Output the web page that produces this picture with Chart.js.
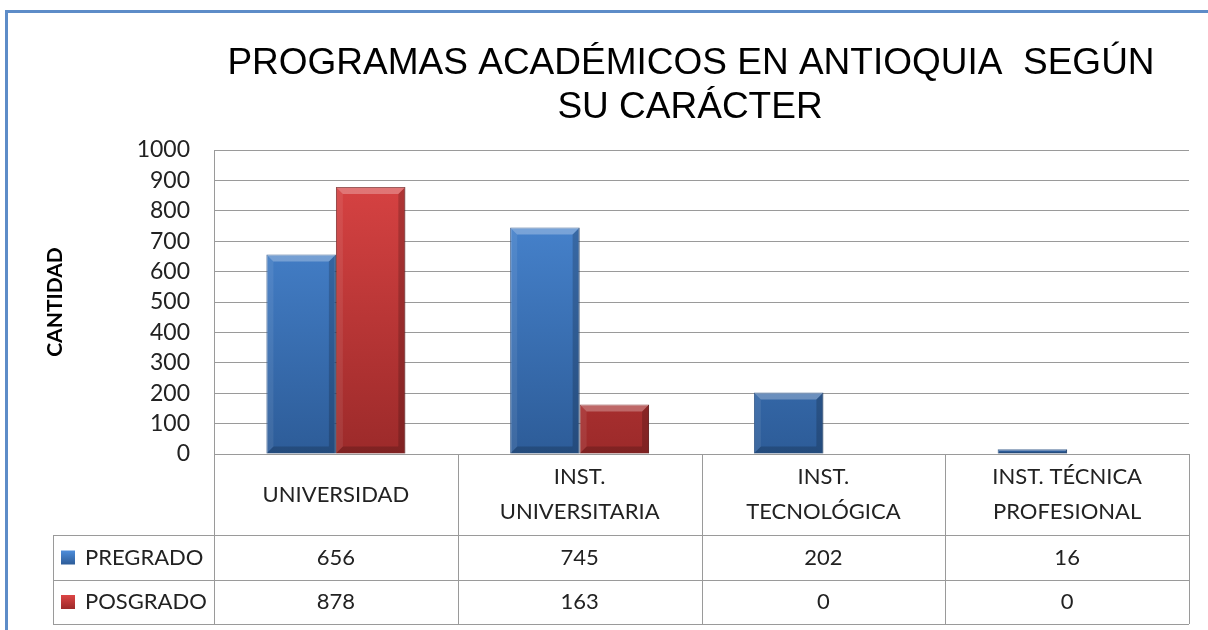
<!DOCTYPE html>
<html lang="es">
<head>
<meta charset="UTF-8">
<title>Programas académicos en Antioquia</title>
<script src="https://cdn.jsdelivr.net/npm/chart.js"></script>
<style>
  body { margin: 0; background: #fff; }
</style>
</head>
<body>
<canvas id="chart" width="1208" height="630"></canvas>

<script>
// datos
const categorias = [['UNIVERSIDAD'], ['INST.', 'UNIVERSITARIA'], ['INST.', 'TECNOLÓGICA'], ['INST. TÉCNICA', 'PROFESIONAL']];
const pregrado = [656, 745, 202, 16];
const posgrado = [878, 163, 0, 0];
const series = ['PREGRADO', 'POSGRADO'];
const titulo = ['PROGRAMAS ACADÉMICOS EN ANTIOQUIA  SEGÚN', 'SU CARÁCTER'];
const ejeY = 'CANTIDAD';

const colores = [
    { top: '#4d8ddb', bottom: '#2d5c98', edge: '#264e82' },
    { top: '#dd4545', bottom: '#9c2a2a', edge: '#781f1f' }
];
const linea = '#9a9a9a';

function degradado(ctx, c, y0, y1) {
    const g = ctx.createLinearGradient(0, y0, 0, y1);
    g.addColorStop(0, c.top);
    g.addColorStop(1, c.bottom);
    return g;
}

// marco azul del gráfico
const marco = {
    id: 'marco',
    beforeDraw(chart) {
        const ctx = chart.ctx;
        ctx.save();
        ctx.strokeStyle = '#5d8cc8';
        ctx.lineWidth = 3;
        ctx.beginPath();
        ctx.moveTo(6.5, chart.height);
        ctx.lineTo(6.5, 11.5);
        ctx.lineTo(chart.width, 11.5);
        ctx.stroke();
        ctx.restore();
    }
};

// título centrado sobre el área
const tituloPlugin = {
    id: 'tituloPlugin',
    afterDraw(chart) {
        const ctx = chart.ctx;
        ctx.save();
        ctx.fillStyle = '#000';
        ctx.font = '37px "Liberation Sans", Arial, sans-serif';
        ctx.textAlign = 'center';
        ctx.textBaseline = 'alphabetic';
        ctx.fillText(titulo[0], 691, 74);
        ctx.fillText(titulo[1], 690, 118);
        ctx.restore();
    }
};

// efecto biselado de las barras
const bisel = {
    id: 'bisel',
    afterDatasetsDraw(chart) {
        const ctx = chart.ctx;
        ctx.save();
        chart.data.datasets.forEach((ds, i) => {
            chart.getDatasetMeta(i).data.forEach(el => {
                const h = el.base - el.y;
                if (h < 1) return;
                const l = el.x - el.width / 2, r = el.x + el.width / 2, t = el.y, b = el.base;
                const s = Math.min(7, h / 3);
                ctx.fillStyle = 'rgba(255,255,255,0.28)';
                ctx.beginPath();
                ctx.moveTo(l, t); ctx.lineTo(r, t); ctx.lineTo(r - s, t + s); ctx.lineTo(l + s, t + s);
                ctx.closePath(); ctx.fill();
                ctx.fillStyle = 'rgba(0,0,0,0.18)';
                ctx.beginPath();
                ctx.moveTo(r, t); ctx.lineTo(r, b); ctx.lineTo(r - s, b - s); ctx.lineTo(r - s, t + s);
                ctx.closePath(); ctx.fill();
                ctx.beginPath();
                ctx.moveTo(l, b); ctx.lineTo(r, b); ctx.lineTo(r - s, b - s); ctx.lineTo(l + s, b - s);
                ctx.closePath(); ctx.fill();
                ctx.fillStyle = 'rgba(255,255,255,0.08)';
                ctx.beginPath();
                ctx.moveTo(l, t); ctx.lineTo(l + s, t + s); ctx.lineTo(l + s, b - s); ctx.lineTo(l, b);
                ctx.closePath(); ctx.fill();
            });
        });
        ctx.restore();
    }
};

// tabla de datos bajo el eje x
const tabla = {
    id: 'tabla',
    afterDraw(chart) {
        const { ctx, chartArea: a, scales: { x } } = chart;
        const n = categorias.length;
        const w = (a.right - a.left) / n;
        const y0 = a.bottom, y1 = y0 + 81, y2 = y1 + 45, y3 = y2 + 44;
        const xl = 53;
        const px = v => Math.round(v) + 0.5;

        ctx.save();
        ctx.strokeStyle = linea;
        ctx.lineWidth = 1;
        ctx.beginPath();
        ctx.moveTo(a.left, px(y0)); ctx.lineTo(a.right, px(y0));
        [y1, y2, y3].forEach(yy => { ctx.moveTo(xl, px(yy)); ctx.lineTo(a.right, px(yy)); });
        for (let i = 0; i <= n; i++) {
            const xx = px(a.left + i * w);
            ctx.moveTo(xx, y0); ctx.lineTo(xx, y3);
        }
        ctx.moveTo(px(xl), y1); ctx.lineTo(px(xl), y3);
        ctx.stroke();

        ctx.fillStyle = '#222';
        ctx.font = '22px Lato, sans-serif';
        ctx.textAlign = 'center';
        ctx.textBaseline = 'middle';
        const filas = [pregrado, posgrado];
        const centros = [(y1 + y2) / 2, (y2 + y3) / 2];
        categorias.forEach((lines, i) => {
            const cx = x.getPixelForValue(i);
            lines.forEach((t, k) => ctx.fillText(t, cx, (y0 + y1) / 2 + (k - (lines.length - 1) / 2) * 35));
            filas.forEach((f, j) => ctx.fillText(String(f[i]), cx, centros[j]));
        });

        ctx.textAlign = 'left';
        series.forEach((s, j) => {
            const cy = centros[j];
            ctx.fillStyle = degradado(ctx, colores[j], cy - 7, cy + 7);
            ctx.fillRect(61, cy - 7, 14, 14);
            ctx.fillStyle = '#222';
            ctx.fillText(s, 85, cy);
        });
        ctx.restore();
    }
};

const ctx = document.getElementById('chart').getContext('2d');
new Chart(ctx, {
    type: 'bar',
    data: {
        labels: categorias.map(c => c.join(' ')),
        datasets: [pregrado, posgrado].map((d, j) => ({
            label: series[j],
            data: d,
            backgroundColor: c => {
                const area = c.chart.chartArea;
                if (!area) return colores[j].top;
                return degradado(c.chart.ctx, colores[j], area.top, area.bottom);
            },
            borderColor: colores[j].edge,
            borderWidth: 1,
            barPercentage: 1,
            categoryPercentage: 0.57
        }))
    },
    options: {
        responsive: false,
        animation: false,
        layout: { padding: { left: 0, right: 19, top: 150, bottom: 176 } },
        plugins: {
            legend: { display: false },
            tooltip: { enabled: false },
            title: { display: false }
        },
        scales: {
            x: { display: false },
            y: {
                min: 0,
                max: 1000,
                ticks: {
                    stepSize: 100,
                    autoSkip: false,
                    padding: 24,
                    color: '#222',
                    font: { family: 'Lato', size: 23 },
                    callback: v => String(v)
                },
                grid: { color: linea, drawTicks: false },
                border: { color: linea },
                title: {
                    display: true,
                    text: ejeY,
                    color: '#000',
                    font: { family: 'Lato', size: 21, weight: 'bold' },
                    padding: { top: 43, bottom: 0 }
                },
                afterFit(s) { s.width = 214; }
            }
        }
    },
    plugins: [marco, bisel, tabla, tituloPlugin]
});
</script>
</body>
</html>
